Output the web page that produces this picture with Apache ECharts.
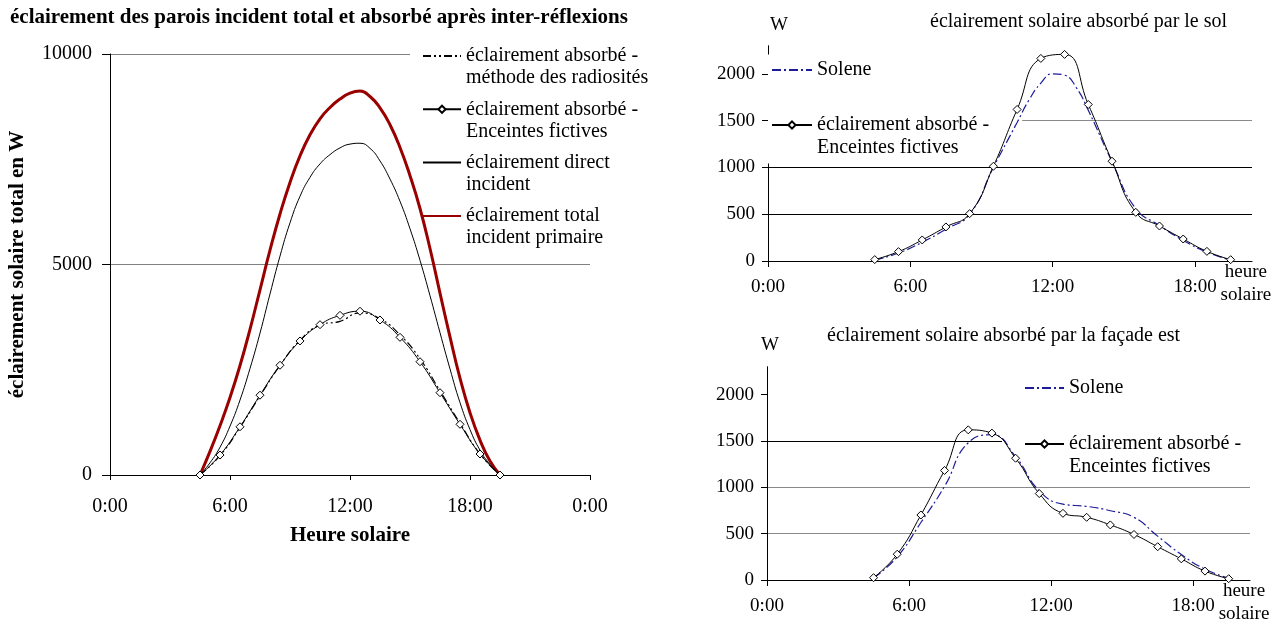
<!DOCTYPE html>
<html><head><meta charset="utf-8">
<script src="https://cdn.jsdelivr.net/npm/echarts@6/dist/echarts.min.js"></script>
<style>html,body{margin:0;padding:0;background:#fff}#c{width:1275px;height:626px}</style>
</head><body><div id="c"></div>
<script>
// ---- data (hours of the day, W) ----
const hours = [4.5,5.5,6.5,7.5,8.5,9.5,10.5,11.5,12.5,13.5,14.5,15.5,16.5,17.5,18.5,19.5];
const hoursFine = [4.5,5,5.5,6,6.5,7,7.5,8,8.5,9,9.5,10,10.5,11,11.5,12,12.5,13,13.5,14,14.5,15,15.5,16,16.5,17,17.5,18,18.5,19,19.5];
// left chart : walls
const wallRadiosites = [0,460,1130,1880,2600,3200,3560,3650,3850,3710,3330,2760,2000,1230,500,0];
const wallFictives   = [0,474,1145,1896,2607,3184,3571,3792,3890,3682,3270,2691,1955,1204,499,0];
const wallDirect     = [0,290,660,1160,1780,2530,3370,4300,5200,5990,6620,7070,7390,7610,7770,7860,7880,7760,7460,7030,6500,5850,5100,4260,3380,2520,1720,1080,590,250,0];
const wallTotal      = [0,560,1170,1840,2600,3460,4400,5340,6200,6950,7580,8080,8460,8730,8930,9070,9120,8990,8720,8320,7780,7110,6330,5380,4320,3280,2300,1480,830,330,0];
// top right : ground
const hoursSolSolene = [4.5,5.5,6.5,7.5,8.5,9.5,10.5,11,11.5,12,12.5,13,13.5,14.5,15.5,16.5,17.5,18.5,19.5];
const solSolene      = [10,85,200,340,500,1000,1480,1720,1900,2000,1985,1850,1610,1060,560,380,220,95,10];
const solFictives    = [15,100,225,364,506,1012,1619,2164,2207,1672,1066,520,374,235,103,14];
// bottom right : east facade
const estSolene      = [20,250,620,1010,1480,1566,1330,961,818,794,747,676,473,274,117,20];
const estFictives    = [25,278,701,1181,1619,1584,1313,932,719,676,594,491,359,228,96,14];
// ticks
const rightXTicks = [0,6,12,18];
const rightYTicks = [0,500,1000,1500,2000];

const F = "'Liberation Serif','Times New Roman',serif";
const pairs = (xs, v) => xs.map((h,i)=>[h, v[i]]);
const hourFmt = v => (Math.round(v) % 24) + ':00';
const blue = '#1c1c9a';

const legendText = {
  rad: '\néclairement absorbé -\nméthode des radiosités',
  fic0: '\néclairement absorbé -\nEnceintes fictives',
  dir: '\néclairement direct\nincident',
  tot: '\néclairement total\nincident primaire',
  sol1: 'Solene',
  fic1: '\néclairement absorbé -\nEnceintes fictives',
  sol2: 'Solene',
  fic2: '\néclairement absorbé -\nEnceintes fictives'
};
const noSym = {opacity: 0};

function rightX(gi){
  return {
    type:'value', gridIndex:gi, min:0, max:20.4, interval:6,
    axisLine:{show:true, lineStyle:{color:'#000', width:1}},
    axisTick:{show:true, length:6, lineStyle:{color:'#000'}, customValues: rightXTicks},
    axisLabel:{fontFamily:F, fontSize:19, color:'#000', margin:17, customValues: rightXTicks,
      formatter: v => (v % 6 === 0 ? hourFmt(v) : '')},
    splitLine:{show:false},
    name:'heure\nsolaire', nameLocation:'end', nameGap:-15,
    nameTextStyle:{fontFamily:F, fontSize:19, lineHeight:23, color:'#000', align:'center', verticalAlign:'top'}
  };
}
function rightY(gi, colors, padLeft, gap){
  return {
    type:'value', gridIndex:gi, min:0, max:2300, interval:500,
    axisLine:{show:true, lineStyle:{color:'#000', width:1}},
    axisTick:{show:true, length:6, lineStyle:{color:'#000'}, customValues: rightYTicks},
    axisLabel:{fontFamily:F, fontSize:19, color:'#000', margin:13, customValues: rightYTicks,
      formatter: v => (v % 500 === 0 && v <= 2000 ? String(v) : '')},
    splitLine:{show:true, showMinLine:false, showMaxLine:false, lineStyle:{color:colors, width:1}},
    name:'W', nameLocation:'end', nameGap:gap,
    nameTextStyle:{fontFamily:F, fontSize:19, color:'#000', align:'center', verticalAlign:'middle', padding:[0,0,0,padLeft]}
  };
}
const lineSeries = (name, xi, xs, vals, extra) => Object.assign({
  name, type:'line', xAxisIndex:xi, yAxisIndex:xi, data:pairs(xs, vals),
  smooth:0.5, symbol:'none'
}, extra);
const markerStyle = {symbol:'diamond', symbolSize:8, showSymbol:true,
  lineStyle:{color:'#000', width:1}, itemStyle:{color:'#fff', borderColor:'#000', borderWidth:1}};

const option = {
  animation:false,
  backgroundColor:'#fff',
  textStyle:{fontFamily:F, color:'#000'},
  title:[
    {text:'éclairement des parois incident total et absorbé après inter-réflexions', left:10, top:7, padding:0,
     textStyle:{fontFamily:F, fontSize:21, fontWeight:'bold', color:'#000'}},
    {text:'éclairement solaire absorbé par le sol', left:930, top:12, padding:0,
     textStyle:{fontFamily:F, fontSize:20, fontWeight:'normal', color:'#000'}},
    {text:'éclairement solaire absorbé par la façade est', left:827, top:326, padding:0,
     textStyle:{fontFamily:F, fontSize:20, fontWeight:'normal', color:'#000'}}
  ],
  legend:[
    {orient:'vertical', left:410, top:23, padding:[0,10,4,12], itemGap:-12.7, itemWidth:38, itemHeight:9,
     backgroundColor:'#fff', z:1, selectedMode:false,
     textStyle:{fontFamily:F, fontSize:20, lineHeight:22, color:'#000'},
     formatter: n => legendText[n],
     data:[{name:'rad', itemStyle:noSym},{name:'fic0'},{name:'dir', itemStyle:noSym},{name:'tot', itemStyle:noSym}]},
    {orient:'vertical', left:768, top:54.5, padding:[4,33,4,3], itemGap:9, itemWidth:40, itemHeight:9,
     backgroundColor:'#fff', z:1, selectedMode:false,
     textStyle:{fontFamily:F, fontSize:20, lineHeight:23, color:'#000'},
     formatter: n => legendText[n],
     data:[{name:'sol1', itemStyle:noSym},{name:'fic1'}]},
    {orient:'vertical', left:1002, top:372.5, padding:[4,10,4,22], itemGap:10, itemWidth:39, itemHeight:9,
     backgroundColor:'#fff', z:1, selectedMode:false,
     textStyle:{fontFamily:F, fontSize:20, lineHeight:23, color:'#000'},
     formatter: n => legendText[n],
     data:[{name:'sol2', itemStyle:noSym},{name:'fic2'}]}
  ],
  grid:[
    {left:110, top:54, width:480, height:421},
    {left:768, top:45.7, width:484, height:215.3},
    {left:767, top:366.7, width:483, height:215}
  ],
  xAxis:[
    {type:'value', gridIndex:0, min:0, max:24, interval:6,
     axisLine:{show:true, lineStyle:{color:'#000', width:1}},
     axisTick:{show:true, length:5, lineStyle:{color:'#000'}},
     axisLabel:{fontFamily:F, fontSize:20, color:'#000', margin:22, formatter:hourFmt},
     splitLine:{show:false},
     name:'Heure solaire', nameLocation:'middle', nameGap:61,
     nameTextStyle:{fontFamily:F, fontSize:21, fontWeight:'bold', color:'#000', align:'center', verticalAlign:'middle'}},
    rightX(1), rightX(2)
  ],
  yAxis:[
    {type:'value', gridIndex:0, min:0, max:10000, interval:5000,
     axisLine:{show:true, lineStyle:{color:'#000', width:1}},
     axisTick:{show:true, length:8, lineStyle:{color:'#000'}},
     axisLabel:{fontFamily:F, fontSize:20, color:'#000', margin:18, formatter: v => String(v)},
     splitLine:{show:true, showMinLine:false, lineStyle:{color:'#808080', width:1}},
     name:'éclairement solaire total en W', nameLocation:'middle', nameGap:92,
     nameTextStyle:{fontFamily:F, fontSize:21, fontWeight:'bold', color:'#000', align:'center', verticalAlign:'middle'}},
    rightY(1, ['#000','#000','#8a8a8a','#8a8a8a'], 22, 21),
    rightY(2, ['#8a8a8a','#8a8a8a','#000','#000'], 6, 22)
  ],
  series:[
    lineSeries('tot', 0, hoursFine, wallTotal, {lineStyle:{color:'#990000', width:3}, itemStyle:{color:'#990000'}}),
    lineSeries('dir', 0, hoursFine, wallDirect, {lineStyle:{color:'#000', width:1}, itemStyle:{color:'#000'}}),
    lineSeries('rad', 0, hours, wallRadiosites, {lineStyle:{color:'#000', width:1.2, type:[8,3,2,3,2,3]}, itemStyle:{color:'#000'}}),
    lineSeries('fic0', 0, hours, wallFictives, markerStyle),
    lineSeries('sol1', 1, hoursSolSolene, solSolene, {lineStyle:{color:blue, width:1.2, type:[9,3,2,3]}, itemStyle:{color:blue}}),
    lineSeries('fic1', 1, hours, solFictives, markerStyle),
    lineSeries('sol2', 2, hours, estSolene, {lineStyle:{color:blue, width:1.2, type:[9,3,2,3]}, itemStyle:{color:blue}}),
    lineSeries('fic2', 2, hours, estFictives, markerStyle)
  ]
};
const chart = echarts.init(document.getElementById('c'), null, {renderer:'canvas'});
chart.setOption(option);
</script></body></html>
